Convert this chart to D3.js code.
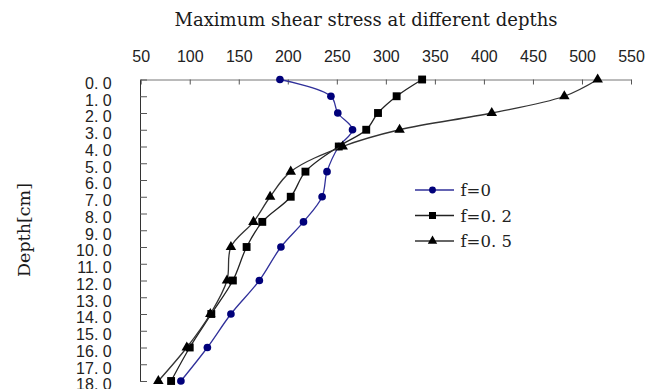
<!DOCTYPE html>
<html>
<head>
<meta charset="utf-8">
<script src="https://cdn.jsdelivr.net/npm/d3@7"></script>
<style>
  body { margin: 0; background: #fff; }
  svg { display: block; font-family: "DejaVu Serif", serif; }
</style>
</head>
<body>
<div id="chart"></div>
<script>
var width = 648;
var height = 389;

// depth of each marker (cm)
var depths = [0, 1, 2, 3, 4, 5.5, 7, 8.5, 10, 12, 14, 16, 18];
var f0 = [192, 244, 251, 266, 252, 240, 235, 216, 193, 171, 142, 118, 91];
var f02 = [337, 311, 292, 280, 252, 218, 203, 174, 158, 144, 122, 100, 81];
var f05 = [516, 482, 408, 314, 256, 203, 182, 165, 142, 138, 121, 97, 68];

var stressTicks = [50, 100, 150, 200, 250, 300, 350, 400, 450, 500, 550];
var depthTicks = d3.range(0, 19);
var depthLabels = ["0. 0", "1. 0", "2. 0", "3. 0", "4. 0", "5. 0", "6. 0", "7. 0", "8. 0", "9. 0",
  "10. 0", "11. 0", "12. 0", "13. 0", "14. 0", "15. 0", "16. 0", "17. 0", "18. 0"];
var seriesNames = ["f=0", "f=0. 2", "f=0. 5"];

var series = [
  { name: seriesNames[0], values: f0, line: "#30309a", fill: "#00007a", symbol: d3.symbolCircle, size: 46 },
  { name: seriesNames[1], values: f02, line: "#222", fill: "#000", symbol: d3.symbolSquare, size: 62 },
  { name: seriesNames[2], values: f05, line: "#333", fill: "#000", symbol: d3.symbolTriangle, size: 48 }
];

var svg = d3.select('#chart')
    .append('svg')
    .attr('width', width)
    .attr('height', height);

var x = d3.scaleLinear().domain([50, 550]).range([140.7, 631]);
var y = d3.scaleLinear().domain([0, 18]).range([79.5, 381]);

// title
svg.append('text')
    .attr('x', 366)
    .attr('y', 26)
    .attr('text-anchor', 'middle')
    .style('font-size', '18px')
    .style('fill', '#1a1a1a')
    .text('Maximum shear stress at different depths');

// y title
svg.append('text')
    .attr('transform', 'translate(30,230) rotate(-90)')
    .attr('text-anchor', 'middle')
    .style('font-size', '17.5px')
    .style('fill', '#1a1a1a')
    .text('Depth[cm]');

var xAxis = d3.axisTop(x)
    .tickValues(stressTicks)
    .tickSizeInner(-5)
    .tickSizeOuter(0)
    .tickPadding(0);

var gx = svg.append('g')
    .attr('class', 'x axis')
    .attr('transform', 'translate(0,' + y(0) + ')')
    .call(xAxis);
gx.select('.domain').attr('stroke', '#777');
gx.selectAll('.tick line').attr('stroke', '#555');
gx.selectAll('.tick text')
    .attr('y', -17.6)
    .attr('dy', 0)
    .style('font-size', '16px')
    .style('fill', '#222');

var yAxis = d3.axisLeft(y)
    .tickValues(depthTicks)
    .tickFormat(function(d, i) { return depthLabels[i]; })
    .tickSizeInner(-7)
    .tickSizeOuter(0);

var gy = svg.append('g')
    .attr('class', 'y axis')
    .attr('transform', 'translate(140,0)')
    .call(yAxis);
gy.select('.domain').attr('stroke', '#333');
gy.selectAll('.tick line').attr('stroke', '#555');
gy.selectAll('.tick text')
    .attr('x', -28.3)
    .attr('dy', '0.55em')
    .style('font-size', '16px')
    .style('fill', '#222');

var line = d3.line()
    .x(function(d) { return x(d.v); })
    .y(function(d) { return y(d.d); })
    .curve(d3.curveCatmullRom.alpha(0.5));

series.forEach(function(s) {
  var pts = s.values.map(function(v, i) { return { v: v, d: depths[i] }; });
  var g = svg.append('g').attr('class', 'series');
  g.append('path')
      .attr('d', line(pts))
      .attr('fill', 'none')
      .attr('stroke', s.line)
      .attr('stroke-width', 1.3);
  g.selectAll('path.mark')
      .data(pts)
      .enter()
      .append('path')
      .attr('class', 'mark')
      .attr('transform', function(d) { return 'translate(' + x(d.v) + ',' + y(d.d) + ')'; })
      .attr('d', d3.symbol().type(s.symbol).size(s.size))
      .attr('fill', s.fill);
});

// legend
var legend = svg.append('g')
    .attr('transform', 'translate(415,190)');
series.forEach(function(s, i) {
  var row = legend.append('g').attr('transform', 'translate(0,' + (i * 25.5) + ')');
  row.append('line')
      .attr('x1', 0).attr('x2', 39)
      .attr('stroke', s.line)
      .attr('stroke-width', 1.3);
  row.append('path')
      .attr('transform', 'translate(17.5,0)')
      .attr('d', d3.symbol().type(s.symbol).size(s.size * 0.8))
      .attr('fill', s.fill);
  row.append('text')
      .attr('x', 45.5)
      .attr('y', 6)
      .style('font-size', '16.5px')
      .style('fill', '#222')
      .text(s.name);
});
</script>
</body>
</html>
